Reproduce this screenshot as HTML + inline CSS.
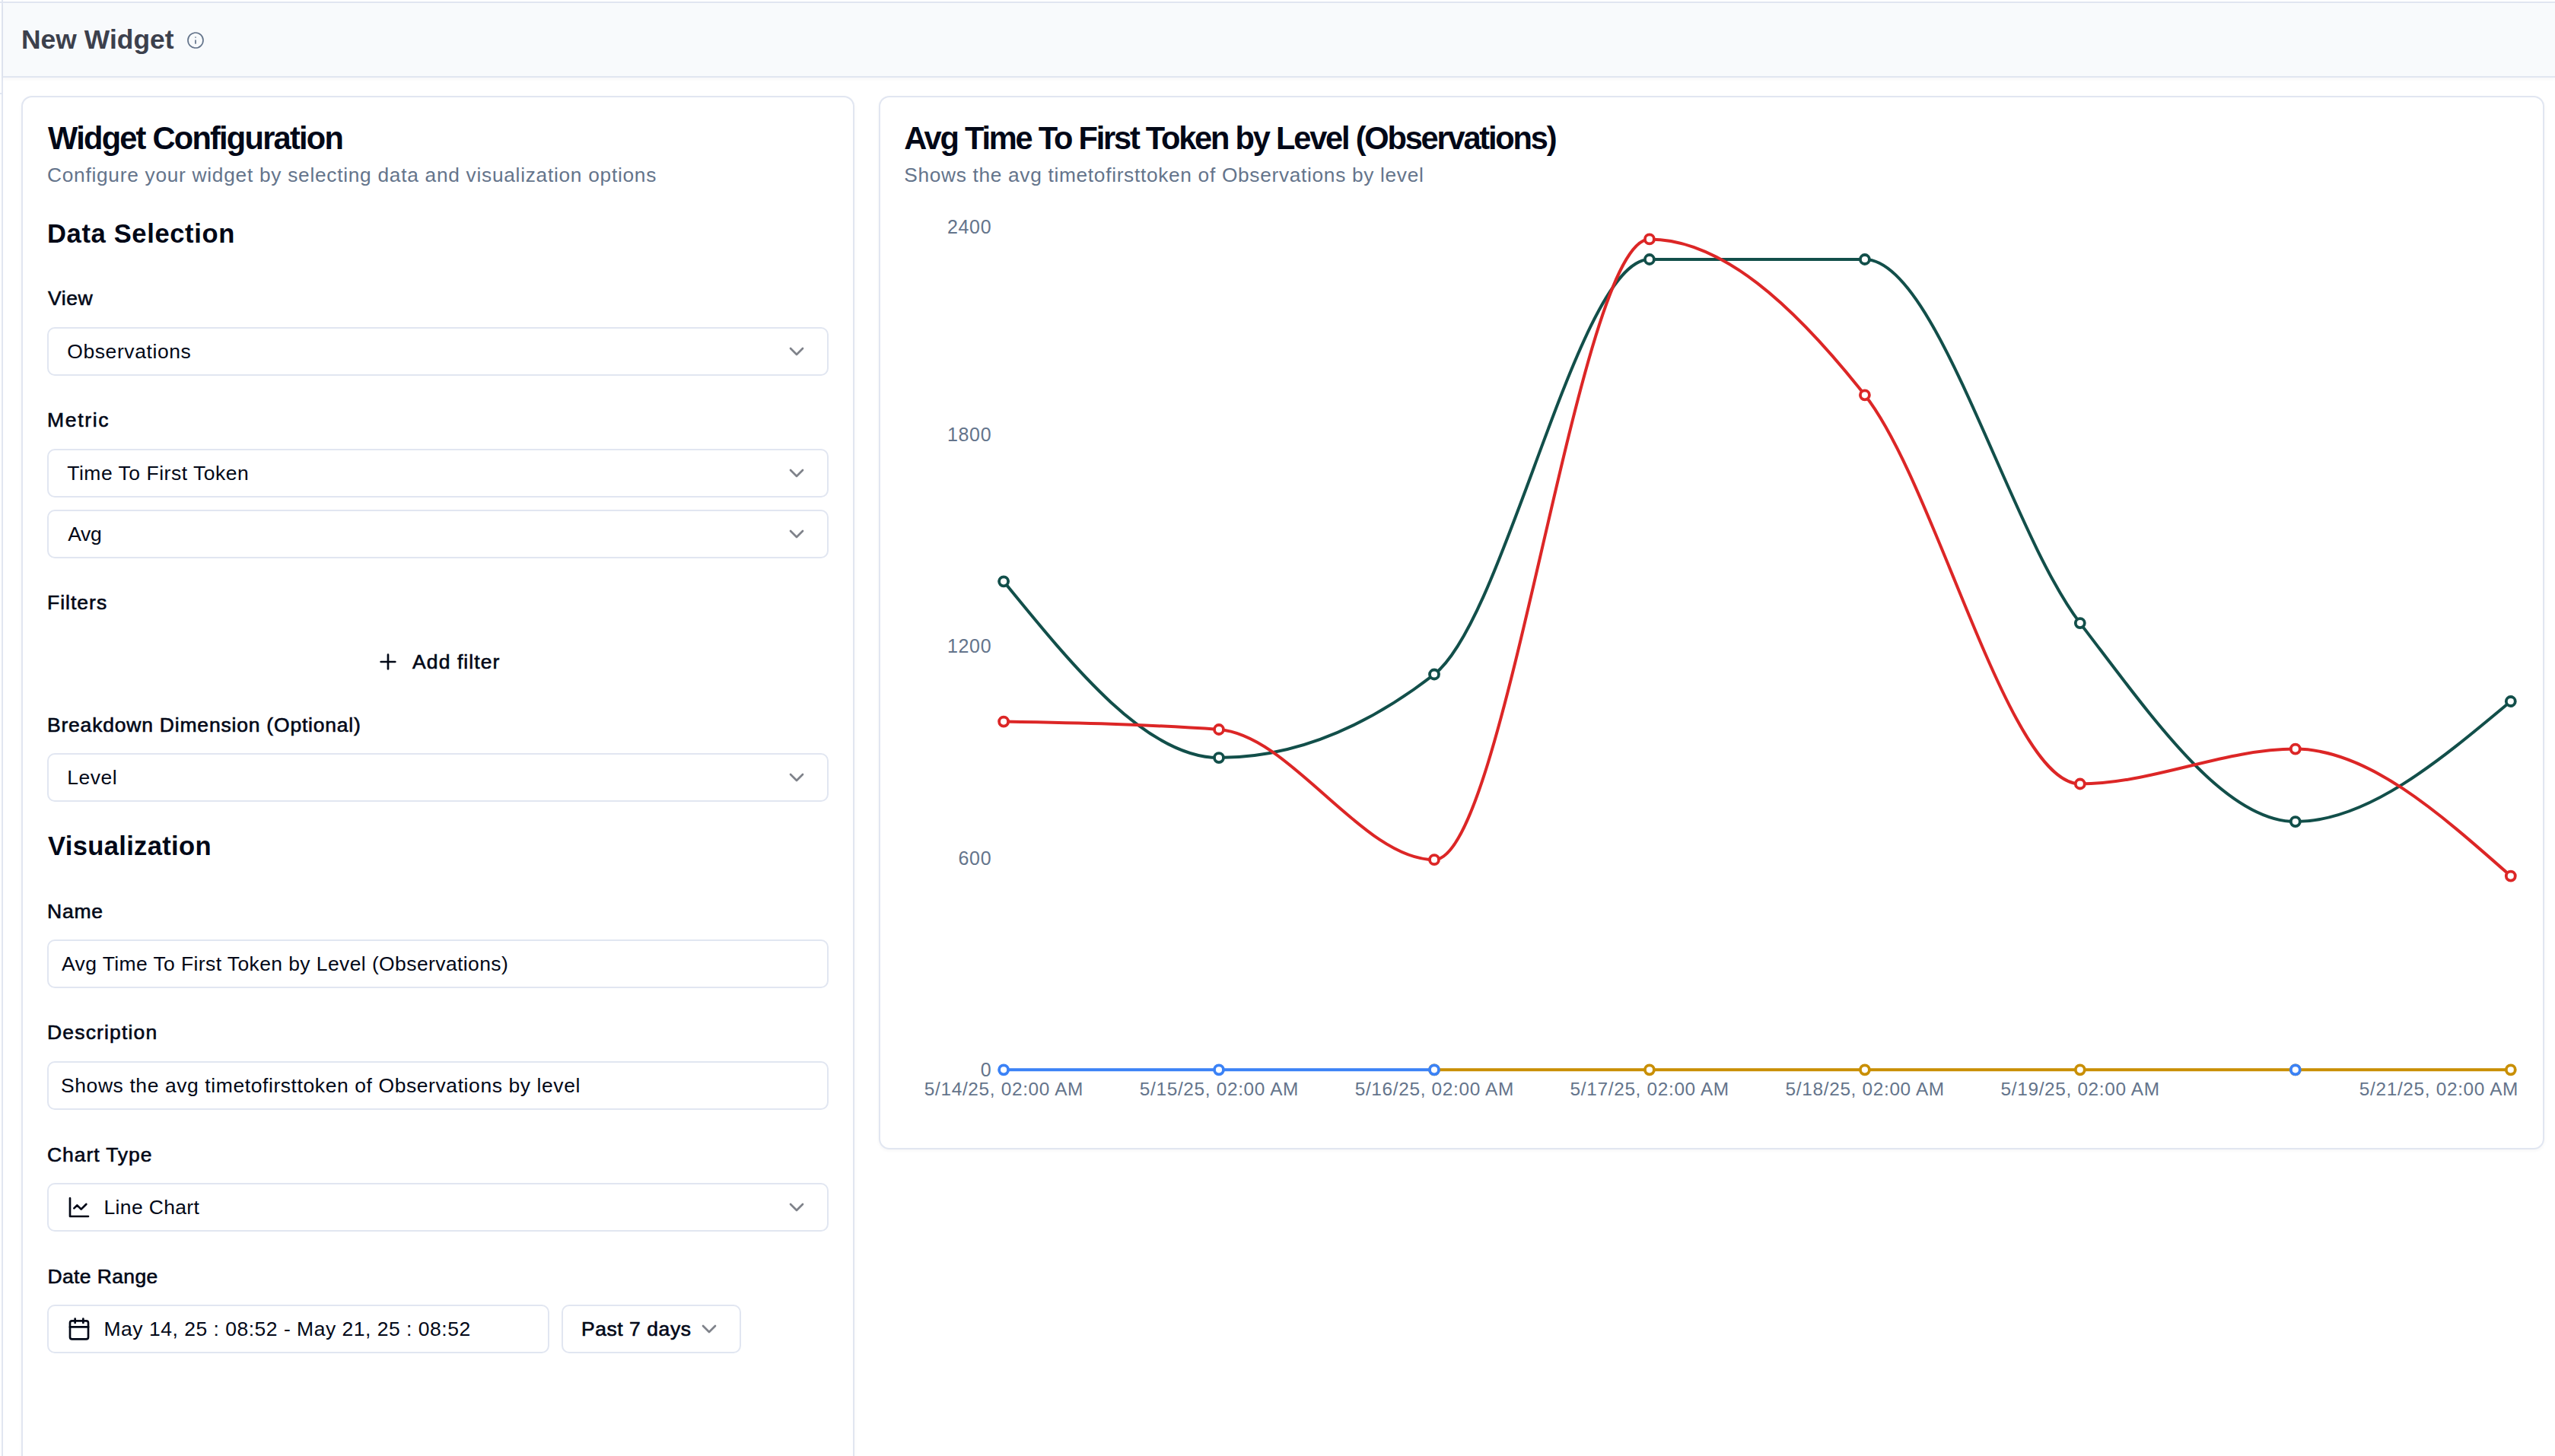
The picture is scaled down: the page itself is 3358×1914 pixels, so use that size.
<!DOCTYPE html>
<html lang="en"><head><meta charset="utf-8"><title>New Widget</title><style>
*{box-sizing:border-box;margin:0;padding:0}
html,body{width:3358px;height:1914px;overflow:hidden;background:#fff}
body{font-family:"Liberation Sans",sans-serif;color:#020817}
#app{position:relative;width:3358px;height:1914px;overflow:hidden;background:#fff}
.tx{position:absolute;white-space:nowrap;display:block}
.ic{position:absolute;display:block}
.box{position:absolute;border:2px solid #e1e6f1;border-radius:10px;background:#fff}
.card{position:absolute;border:2px solid #e1e6f1;border-radius:14px;background:#fff;box-shadow:0 2px 4px rgba(15,23,42,.04)}
.topline{position:absolute;left:0;top:2px;width:3358px;height:2px;background:#e1e6f1}
.leftline{position:absolute;left:2px;top:0;width:2px;height:1914px;background:#e1e6f1}
header{position:absolute;left:4px;top:4px;width:3354px;height:98px;background:#f8fafc;border-bottom:2px solid #e1e6f1;box-shadow:0 2px 4px rgba(15,23,42,.04)}
.stub{position:absolute;left:0;top:122px;width:2px;height:2px;background:#e1e6f1}
.chart{position:absolute;left:0;top:0}
.axis text{font-family:"Liberation Sans",sans-serif;font-size:25px;fill:#64748b}
</style></head>
<body><div id="app">
<div class="topline"></div><div class="leftline"></div><div class="stub"></div>
<header></header><h1><span class="tx " style="left:28.0px;top:34.9px;font-size:35.4px;line-height:35.4px;font-weight:700;letter-spacing:0.044px;color:#3c404c;">New Widget</span></h1><svg class="ic" style="left:245px;top:41px;opacity:1" width="24" height="24" viewBox="0 0 24 24" fill="none" stroke="#64748b" stroke-width="1.7" stroke-linecap="round" stroke-linejoin="round"><circle cx="12" cy="12" r="10"/><path d="M12 16v-4"/><path d="M12 8h.01"/></svg>
<section>
<div class="card" style="left:28px;top:126px;width:1095px;height:1900px"></div>
<h2><span class="tx " style="left:63.1px;top:160.6px;font-size:41.6px;line-height:41.6px;font-weight:700;letter-spacing:-1.774px;color:#020817;">Widget Configuration</span></h2><p><span class="tx " style="left:62.0px;top:216.6px;font-size:26.3px;line-height:26.3px;font-weight:400;letter-spacing:0.719px;color:#64748b;">Configure your widget by selecting data and visualization options</span></p>
<h3><span class="tx " style="left:62.0px;top:290.4px;font-size:34.6px;line-height:34.6px;font-weight:700;letter-spacing:0.615px;color:#020817;">Data Selection</span></h3>
<label><span class="tx " style="left:63.1px;top:379.4px;font-size:26.5px;line-height:26.5px;font-weight:400;letter-spacing:0.567px;color:#020817;-webkit-text-stroke:0.6px #020817;">View</span></label><div class="field"><div class="box" style="left:62px;top:430px;width:1027px;height:64px"></div><span class="tx " style="left:88.2px;top:448.6px;font-size:26.5px;line-height:26.5px;font-weight:400;letter-spacing:0.591px;color:#020817;">Observations</span><svg class="ic" style="left:1031px;top:446px;opacity:0.5" width="32" height="32" viewBox="0 0 24 24" fill="none" stroke="#020817" stroke-width="2" stroke-linecap="round" stroke-linejoin="round"><path d="m6 9 6 6 6-6"/></svg></div>
<label><span class="tx " style="left:62.0px;top:539.4px;font-size:26.5px;line-height:26.5px;font-weight:400;letter-spacing:1.68px;color:#020817;-webkit-text-stroke:0.6px #020817;">Metric</span></label><div class="field"><div class="box" style="left:62px;top:590px;width:1027px;height:64px"></div><span class="tx " style="left:88.2px;top:608.6px;font-size:26.5px;line-height:26.5px;font-weight:400;letter-spacing:0.517px;color:#020817;">Time To First Token</span><svg class="ic" style="left:1031px;top:606px;opacity:0.5" width="32" height="32" viewBox="0 0 24 24" fill="none" stroke="#020817" stroke-width="2" stroke-linecap="round" stroke-linejoin="round"><path d="m6 9 6 6 6-6"/></svg></div><div class="field"><div class="box" style="left:62px;top:670px;width:1027px;height:64px"></div><span class="tx " style="left:89.2px;top:688.6px;font-size:26.5px;line-height:26.5px;font-weight:400;letter-spacing:-0.35px;color:#020817;">Avg</span><svg class="ic" style="left:1031px;top:686px;opacity:0.5" width="32" height="32" viewBox="0 0 24 24" fill="none" stroke="#020817" stroke-width="2" stroke-linecap="round" stroke-linejoin="round"><path d="m6 9 6 6 6-6"/></svg></div>
<label><span class="tx " style="left:62.0px;top:779.4px;font-size:26.5px;line-height:26.5px;font-weight:400;letter-spacing:1.0px;color:#020817;-webkit-text-stroke:0.6px #020817;">Filters</span></label><button style="all:unset"><svg class="ic" style="left:494px;top:854px;opacity:1" width="32" height="32" viewBox="0 0 24 24" fill="none" stroke="#020817" stroke-width="2" stroke-linecap="round" stroke-linejoin="round"><path d="M5 12h14"/><path d="M12 5v14"/></svg><span class="tx " style="left:542.1px;top:856.6px;font-size:26.5px;line-height:26.5px;font-weight:400;letter-spacing:1.067px;color:#020817;-webkit-text-stroke:0.6px #020817;">Add filter</span></button>
<label><span class="tx " style="left:62.0px;top:939.6px;font-size:26.5px;line-height:26.5px;font-weight:400;letter-spacing:0.793px;color:#020817;-webkit-text-stroke:0.6px #020817;">Breakdown Dimension (Optional)</span></label><div class="field"><div class="box" style="left:62px;top:990px;width:1027px;height:64px"></div><span class="tx " style="left:88.2px;top:1008.6px;font-size:26.5px;line-height:26.5px;font-weight:400;letter-spacing:0.5px;color:#020817;">Level</span><svg class="ic" style="left:1031px;top:1006px;opacity:0.5" width="32" height="32" viewBox="0 0 24 24" fill="none" stroke="#020817" stroke-width="2" stroke-linecap="round" stroke-linejoin="round"><path d="m6 9 6 6 6-6"/></svg></div>
<h3><span class="tx " style="left:63.1px;top:1095.2px;font-size:34.6px;line-height:34.6px;font-weight:700;letter-spacing:0.308px;color:#020817;">Visualization</span></h3>
<label><span class="tx " style="left:62.0px;top:1184.8px;font-size:26.5px;line-height:26.5px;font-weight:400;letter-spacing:0.8px;color:#020817;-webkit-text-stroke:0.6px #020817;">Name</span></label><div class="field"><div class="box" style="left:62px;top:1235px;width:1027px;height:64px"></div><span class="tx " style="left:81.0px;top:1254.0px;font-size:26.5px;line-height:26.5px;font-weight:400;letter-spacing:0.398px;color:#020817;">Avg Time To First Token by Level (Observations)</span></div>
<label><span class="tx " style="left:62.0px;top:1344.4px;font-size:26.5px;line-height:26.5px;font-weight:400;letter-spacing:1.17px;color:#020817;-webkit-text-stroke:0.6px #020817;">Description</span></label><div class="field"><div class="box" style="left:62px;top:1395px;width:1027px;height:64px"></div><span class="tx " style="left:80.0px;top:1413.8px;font-size:26.5px;line-height:26.5px;font-weight:400;letter-spacing:0.581px;color:#020817;">Shows the avg timetofirsttoken of Observations by level</span></div>
<label><span class="tx " style="left:62.0px;top:1504.8px;font-size:26.5px;line-height:26.5px;font-weight:400;letter-spacing:0.922px;color:#020817;-webkit-text-stroke:0.6px #020817;">Chart Type</span></label><div class="field"><div class="box" style="left:62px;top:1555px;width:1027px;height:64px"></div><svg class="ic" style="left:88px;top:1571px;opacity:1" width="32" height="32" viewBox="0 0 24 24" fill="none" stroke="#020817" stroke-width="2" stroke-linecap="round" stroke-linejoin="round"><path d="M3 3v18h18"/><path d="m19 9-5 5-4-4-3 3"/></svg><span class="tx " style="left:136.5px;top:1573.6px;font-size:26.5px;line-height:26.5px;font-weight:400;letter-spacing:0.344px;color:#020817;">Line Chart</span><svg class="ic" style="left:1031px;top:1571px;opacity:0.5" width="32" height="32" viewBox="0 0 24 24" fill="none" stroke="#020817" stroke-width="2" stroke-linecap="round" stroke-linejoin="round"><path d="m6 9 6 6 6-6"/></svg></div>
<label><span class="tx " style="left:62.4px;top:1664.9px;font-size:26.5px;line-height:26.5px;font-weight:400;letter-spacing:0.389px;color:#020817;-webkit-text-stroke:0.6px #020817;">Date Range</span></label><div class="field"><div class="box" style="left:62px;top:1715px;width:660px;height:64px"></div><svg class="ic" style="left:88px;top:1731px;opacity:1" width="32" height="32" viewBox="0 0 24 24" fill="none" stroke="#020817" stroke-width="2" stroke-linecap="round" stroke-linejoin="round"><path d="M8 2v4"/><path d="M16 2v4"/><rect width="18" height="18" x="3" y="4" rx="2"/><path d="M3 10h18"/></svg><span class="tx " style="left:136.5px;top:1733.6px;font-size:26.5px;line-height:26.5px;font-weight:400;letter-spacing:0.503px;color:#020817;">May 14, 25 : 08:52 - May 21, 25 : 08:52</span></div>
<div class="field"><div class="box" style="left:738px;top:1715px;width:236px;height:64px"></div><span class="tx " style="left:763.9px;top:1733.6px;font-size:26.5px;line-height:26.5px;font-weight:400;letter-spacing:0.56px;color:#020817;-webkit-text-stroke:0.6px #020817;">Past 7 days</span><svg class="ic" style="left:916px;top:1731px;opacity:0.5" width="32" height="32" viewBox="0 0 24 24" fill="none" stroke="#020817" stroke-width="2" stroke-linecap="round" stroke-linejoin="round"><path d="m6 9 6 6 6-6"/></svg></div>
</section>
<section>
<div class="card" style="left:1155px;top:126px;width:2189px;height:1385px"></div>
<h2><span class="tx " style="left:1188.2px;top:161.2px;font-size:41.6px;line-height:41.6px;font-weight:700;letter-spacing:-2.209px;color:#020817;">Avg Time To First Token by Level (Observations)</span></h2><p><span class="tx " style="left:1188.2px;top:216.9px;font-size:26.3px;line-height:26.3px;font-weight:400;letter-spacing:0.678px;color:#64748b;">Shows the avg timetofirsttoken of Observations by level</span></p>
<svg class="chart" width="3358" height="1914" viewBox="0 0 3358 1914"><g class="axis" text-anchor="end"><text x="1303.3" y="307.3" style="letter-spacing:0.7px">2400</text><text x="1303.3" y="579.8" style="letter-spacing:0.7px">1800</text><text x="1303.3" y="858.3" style="letter-spacing:0.7px">1200</text><text x="1303.3" y="1136.8" style="letter-spacing:0.7px">600</text><text x="1303.3" y="1415.4" style="letter-spacing:0.7px">0</text></g><g class="axis"><text x="1214.8" y="1439.7" textLength="208.6" lengthAdjust="spacing" style="font-size:24.4px">5/14/25, 02:00 AM</text><text x="1497.8" y="1439.7" textLength="208.6" lengthAdjust="spacing" style="font-size:24.4px">5/15/25, 02:00 AM</text><text x="1780.7" y="1439.7" textLength="208.6" lengthAdjust="spacing" style="font-size:24.4px">5/16/25, 02:00 AM</text><text x="2063.6" y="1439.7" textLength="208.6" lengthAdjust="spacing" style="font-size:24.4px">5/17/25, 02:00 AM</text><text x="2346.6" y="1439.7" textLength="208.6" lengthAdjust="spacing" style="font-size:24.4px">5/18/25, 02:00 AM</text><text x="2629.5" y="1439.7" textLength="208.6" lengthAdjust="spacing" style="font-size:24.4px">5/19/25, 02:00 AM</text><text x="3100.8" y="1439.7" textLength="208.6" lengthAdjust="spacing" style="font-size:24.4px">5/21/25, 02:00 AM</text></g><path d="M1319.1,764.3C1413.4,880.2,1507.7,996.1,1602.0,996.1C1696.4,996.1,1790.7,959.6,1885.0,886.5C1979.3,813.4,2073.6,341.0,2167.9,341.0C2262.3,341.0,2356.6,341.0,2450.9,341.0C2545.2,341.0,2639.5,695.9,2733.8,819.1C2828.2,942.3,2922.5,1080.1,3016.8,1080.1C3111.1,1080.1,3205.4,1001.0,3299.8,922.0" fill="none" stroke="#124f4a" stroke-width="4"/><circle cx="1319.1" cy="764.3" r="6" fill="#fff" stroke="#124f4a" stroke-width="3.8"/><circle cx="1602.0" cy="996.1" r="6" fill="#fff" stroke="#124f4a" stroke-width="3.8"/><circle cx="1885.0" cy="886.5" r="6" fill="#fff" stroke="#124f4a" stroke-width="3.8"/><circle cx="2167.9" cy="341.0" r="6" fill="#fff" stroke="#124f4a" stroke-width="3.8"/><circle cx="2450.9" cy="341.0" r="6" fill="#fff" stroke="#124f4a" stroke-width="3.8"/><circle cx="2733.8" cy="819.1" r="6" fill="#fff" stroke="#124f4a" stroke-width="3.8"/><circle cx="3016.8" cy="1080.1" r="6" fill="#fff" stroke="#124f4a" stroke-width="3.8"/><circle cx="3299.8" cy="922.0" r="6" fill="#fff" stroke="#124f4a" stroke-width="3.8"/><path d="M1319.1,948.6C1413.4,950.3,1507.7,952.1,1602.0,959.0C1696.4,965.9,1790.7,1130.2,1885.0,1130.2C1979.3,1130.2,2073.6,314.4,2167.9,314.4C2262.3,314.4,2356.6,400.0,2450.9,519.3C2545.2,638.6,2639.5,1030.5,2733.8,1030.5C2828.2,1030.5,2922.5,984.6,3016.8,984.6C3111.1,984.6,3205.4,1068.1,3299.8,1151.6" fill="none" stroke="#dc2626" stroke-width="4"/><circle cx="1319.1" cy="948.6" r="6" fill="#fff" stroke="#dc2626" stroke-width="3.8"/><circle cx="1602.0" cy="959.0" r="6" fill="#fff" stroke="#dc2626" stroke-width="3.8"/><circle cx="1885.0" cy="1130.2" r="6" fill="#fff" stroke="#dc2626" stroke-width="3.8"/><circle cx="2167.9" cy="314.4" r="6" fill="#fff" stroke="#dc2626" stroke-width="3.8"/><circle cx="2450.9" cy="519.3" r="6" fill="#fff" stroke="#dc2626" stroke-width="3.8"/><circle cx="2733.8" cy="1030.5" r="6" fill="#fff" stroke="#dc2626" stroke-width="3.8"/><circle cx="3016.8" cy="984.6" r="6" fill="#fff" stroke="#dc2626" stroke-width="3.8"/><circle cx="3299.8" cy="1151.6" r="6" fill="#fff" stroke="#dc2626" stroke-width="3.8"/><path d="M1885.0,1406.3H3299.8" fill="none" stroke="#c98f04" stroke-width="4"/><circle cx="1885.0" cy="1406.3" r="6" fill="#fff" stroke="#c98f04" stroke-width="3.8"/><circle cx="2167.9" cy="1406.3" r="6" fill="#fff" stroke="#c98f04" stroke-width="3.8"/><circle cx="2450.9" cy="1406.3" r="6" fill="#fff" stroke="#c98f04" stroke-width="3.8"/><circle cx="2733.8" cy="1406.3" r="6" fill="#fff" stroke="#c98f04" stroke-width="3.8"/><circle cx="3016.8" cy="1406.3" r="6" fill="#fff" stroke="#c98f04" stroke-width="3.8"/><circle cx="3299.8" cy="1406.3" r="6" fill="#fff" stroke="#c98f04" stroke-width="3.8"/><path d="M1319.1,1406.3H1885.0" fill="none" stroke="#3b82f6" stroke-width="4"/><circle cx="1319.1" cy="1406.3" r="6" fill="#fff" stroke="#3b82f6" stroke-width="3.8"/><circle cx="1602.0" cy="1406.3" r="6" fill="#fff" stroke="#3b82f6" stroke-width="3.8"/><circle cx="1885.0" cy="1406.3" r="6" fill="#fff" stroke="#3b82f6" stroke-width="3.8"/><circle cx="3016.8" cy="1406.3" r="6" fill="#fff" stroke="#3b82f6" stroke-width="3.8"/></svg>
</section>
</div></body></html>
